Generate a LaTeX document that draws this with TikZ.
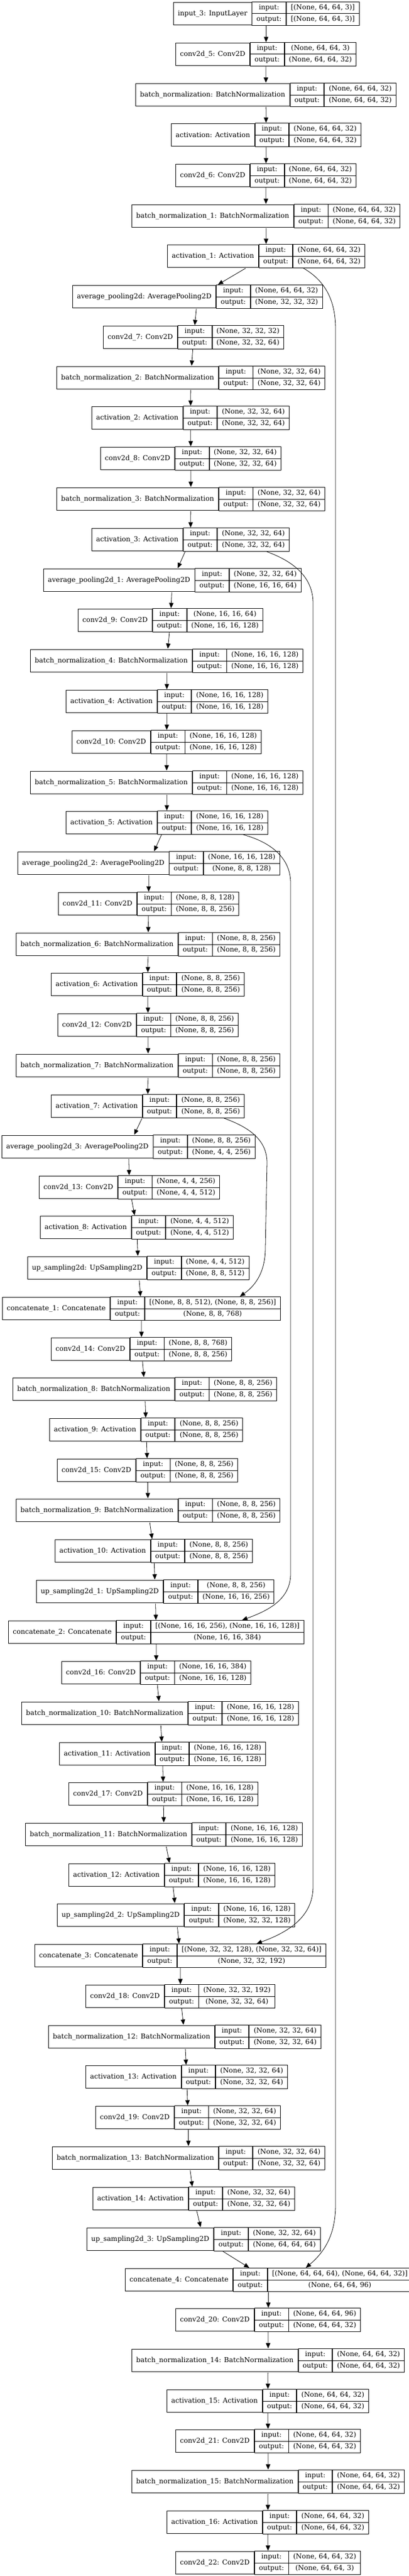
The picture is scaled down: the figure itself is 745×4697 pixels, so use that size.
\documentclass[tikz,border=0pt]{standalone}
\usepackage{fontspec}
\setmainfont{DejaVu Serif}
\usetikzlibrary{positioning}
\usetikzlibrary{fit, shapes.multipart}
\usetikzlibrary{arrows.meta}

\newcommand{\cellstrut}{\rule[-3pt]{0pt}{12.5pt}}
% one keras record: id, left x, top y, layer name, input shape, output shape
\newcommand{\layer}[6]{%
  \node[name-cell, anchor=north west] (n#1) at (#2,#3) {#4};
  \node[port-cell, right=0pt of n#1] (p#1) {\cellstrut input:\nodepart{two}\cellstrut output:};
  \node[port-cell, right=0pt of p#1] (v#1) {\cellstrut #5\nodepart{two}\cellstrut #6};
  \node[fit=(n#1)(v#1), inner sep=0pt] (L#1) {};}

\begin{document}
\begin{tikzpicture}[x=1pt, y=-1pt, font=\fontsize{12.45}{14}\selectfont,
  >={Triangle[length=9.5pt, width=8pt]}]
\tikzstyle{name-cell}=[rectangle, draw, line width=0.9pt, inner xsep=8pt, inner ysep=0pt, minimum height=41pt]
\tikzstyle{port-cell}=[rectangle split, rectangle split parts=2, draw, line width=0.9pt, inner xsep=8pt, inner ysep=4pt]
\tikzstyle{flow-edge}=[line width=0.8pt]
\useasboundingbox (0,0) rectangle (745,4697);

\layer{1}{316}{4}{input\_3: InputLayer}{[(None, 64, 64, 3)]}{[(None, 64, 64, 3)]}
\layer{2}{320}{78}{conv2d\_5: Conv2D}{(None, 64, 64, 3)}{(None, 64, 64, 32)}
\layer{3}{247}{152}{batch\_normalization: BatchNormalization}{(None, 64, 64, 32)}{(None, 64, 64, 32)}
\layer{4}{312}{225}{activation: Activation}{(None, 64, 64, 32)}{(None, 64, 64, 32)}
\layer{5}{320}{299}{conv2d\_6: Conv2D}{(None, 64, 64, 32)}{(None, 64, 64, 32)}
\layer{6}{240}{373}{batch\_normalization\_1: BatchNormalization}{(None, 64, 64, 32)}{(None, 64, 64, 32)}
\layer{7}{305}{446}{activation\_1: Activation}{(None, 64, 64, 32)}{(None, 64, 64, 32)}
\layer{8}{132}{520}{average\_pooling2d: AveragePooling2D}{(None, 64, 64, 32)}{(None, 32, 32, 32)}
\layer{9}{188}{594}{conv2d\_7: Conv2D}{(None, 32, 32, 32)}{(None, 32, 32, 64)}
\layer{10}{103}{668}{batch\_normalization\_2: BatchNormalization}{(None, 32, 32, 64)}{(None, 32, 32, 64)}
\layer{11}{167}{741}{activation\_2: Activation}{(None, 32, 32, 64)}{(None, 32, 32, 64)}
\layer{12}{183}{815}{conv2d\_8: Conv2D}{(None, 32, 32, 64)}{(None, 32, 32, 64)}
\layer{13}{103}{889}{batch\_normalization\_3: BatchNormalization}{(None, 32, 32, 64)}{(None, 32, 32, 64)}
\layer{14}{167}{963}{activation\_3: Activation}{(None, 32, 32, 64)}{(None, 32, 32, 64)}
\layer{15}{79}{1037}{average\_pooling2d\_1: AveragePooling2D}{(None, 32, 32, 64)}{(None, 16, 16, 64)}
\layer{16}{142}{1110}{conv2d\_9: Conv2D}{(None, 16, 16, 64)}{(None, 16, 16, 128)}
\layer{17}{55}{1184}{batch\_normalization\_4: BatchNormalization}{(None, 16, 16, 128)}{(None, 16, 16, 128)}
\layer{18}{120}{1258}{activation\_4: Activation}{(None, 16, 16, 128)}{(None, 16, 16, 128)}
\layer{19}{131}{1332}{conv2d\_10: Conv2D}{(None, 16, 16, 128)}{(None, 16, 16, 128)}
\layer{20}{55}{1406}{batch\_normalization\_5: BatchNormalization}{(None, 16, 16, 128)}{(None, 16, 16, 128)}
\layer{21}{120}{1479}{activation\_5: Activation}{(None, 16, 16, 128)}{(None, 16, 16, 128)}
\layer{22}{32}{1553}{average\_pooling2d\_2: AveragePooling2D}{(None, 16, 16, 128)}{(None, 8, 8, 128)}
\layer{23}{106}{1627}{conv2d\_11: Conv2D}{(None, 8, 8, 128)}{(None, 8, 8, 256)}
\layer{24}{29}{1701}{batch\_normalization\_6: BatchNormalization}{(None, 8, 8, 256)}{(None, 8, 8, 256)}
\layer{25}{93}{1774}{activation\_6: Activation}{(None, 8, 8, 256)}{(None, 8, 8, 256)}
\layer{26}{105}{1848}{conv2d\_12: Conv2D}{(None, 8, 8, 256)}{(None, 8, 8, 256)}
\layer{27}{29}{1922}{batch\_normalization\_7: BatchNormalization}{(None, 8, 8, 256)}{(None, 8, 8, 256)}
\layer{28}{93}{1996}{activation\_7: Activation}{(None, 8, 8, 256)}{(None, 8, 8, 256)}
\layer{29}{3}{2070}{average\_pooling2d\_3: AveragePooling2D}{(None, 8, 8, 256)}{(None, 4, 4, 256)}
\layer{30}{71}{2144}{conv2d\_13: Conv2D}{(None, 4, 4, 256)}{(None, 4, 4, 512)}
\layer{31}{73}{2217}{activation\_8: Activation}{(None, 4, 4, 512)}{(None, 4, 4, 512)}
\layer{32}{50}{2291}{up\_sampling2d: UpSampling2D}{(None, 4, 4, 512)}{(None, 8, 8, 512)}
\layer{33}{4}{2365}{concatenate\_1: Concatenate}{[(None, 8, 8, 512), (None, 8, 8, 256)]}{(None, 8, 8, 768)}
\layer{34}{93}{2439}{conv2d\_14: Conv2D}{(None, 8, 8, 768)}{(None, 8, 8, 256)}
\layer{35}{23}{2512}{batch\_normalization\_8: BatchNormalization}{(None, 8, 8, 256)}{(None, 8, 8, 256)}
\layer{36}{90}{2586}{activation\_9: Activation}{(None, 8, 8, 256)}{(None, 8, 8, 256)}
\layer{37}{104}{2660}{conv2d\_15: Conv2D}{(None, 8, 8, 256)}{(None, 8, 8, 256)}
\layer{38}{29}{2733}{batch\_normalization\_9: BatchNormalization}{(None, 8, 8, 256)}{(None, 8, 8, 256)}
\layer{39}{100}{2807}{activation\_10: Activation}{(None, 8, 8, 256)}{(None, 8, 8, 256)}
\layer{40}{66}{2881}{up\_sampling2d\_1: UpSampling2D}{(None, 8, 8, 256)}{(None, 16, 16, 256)}
\layer{41}{15}{2955}{concatenate\_2: Concatenate}{[(None, 16, 16, 256), (None, 16, 16, 128)]}{(None, 16, 16, 384)}
\layer{42}{112}{3029}{conv2d\_16: Conv2D}{(None, 16, 16, 384)}{(None, 16, 16, 128)}
\layer{43}{39}{3103}{batch\_normalization\_10: BatchNormalization}{(None, 16, 16, 128)}{(None, 16, 16, 128)}
\layer{44}{108}{3177}{activation\_11: Activation}{(None, 16, 16, 128)}{(None, 16, 16, 128)}
\layer{45}{125}{3250}{conv2d\_17: Conv2D}{(None, 16, 16, 128)}{(None, 16, 16, 128)}
\layer{46}{46}{3324}{batch\_normalization\_11: BatchNormalization}{(None, 16, 16, 128)}{(None, 16, 16, 128)}
\layer{47}{125}{3398}{activation\_12: Activation}{(None, 16, 16, 128)}{(None, 16, 16, 128)}
\layer{48}{104}{3471}{up\_sampling2d\_2: UpSampling2D}{(None, 16, 16, 128)}{(None, 32, 32, 128)}
\layer{49}{63}{3545}{concatenate\_3: Concatenate}{[(None, 32, 32, 128), (None, 32, 32, 64)]}{(None, 32, 32, 192)}
\layer{50}{156}{3619}{conv2d\_18: Conv2D}{(None, 32, 32, 192)}{(None, 32, 32, 64)}
\layer{51}{88}{3693}{batch\_normalization\_12: BatchNormalization}{(None, 32, 32, 64)}{(None, 32, 32, 64)}
\layer{52}{156}{3766}{activation\_13: Activation}{(None, 32, 32, 64)}{(None, 32, 32, 64)}
\layer{53}{174}{3840}{conv2d\_19: Conv2D}{(None, 32, 32, 64)}{(None, 32, 32, 64)}
\layer{54}{95}{3914}{batch\_normalization\_13: BatchNormalization}{(None, 32, 32, 64)}{(None, 32, 32, 64)}
\layer{55}{169}{3988}{activation\_14: Activation}{(None, 32, 32, 64)}{(None, 32, 32, 64)}
\layer{56}{158}{4062}{up\_sampling2d\_3: UpSampling2D}{(None, 32, 32, 64)}{(None, 64, 64, 64)}
\layer{57}{228}{4136}{concatenate\_4: Concatenate}{[(None, 64, 64, 64), (None, 64, 64, 32)]}{(None, 64, 64, 96)}
\layer{58}{320}{4209}{conv2d\_20: Conv2D}{(None, 64, 64, 96)}{(None, 64, 64, 32)}
\layer{59}{240}{4283}{batch\_normalization\_14: BatchNormalization}{(None, 64, 64, 32)}{(None, 64, 64, 32)}
\layer{60}{304}{4357}{activation\_15: Activation}{(None, 64, 64, 32)}{(None, 64, 64, 32)}
\layer{61}{320}{4430}{conv2d\_21: Conv2D}{(None, 64, 64, 32)}{(None, 64, 64, 32)}
\layer{62}{240}{4504}{batch\_normalization\_15: BatchNormalization}{(None, 64, 64, 32)}{(None, 64, 64, 32)}
\layer{63}{304}{4578}{activation\_16: Activation}{(None, 64, 64, 32)}{(None, 64, 64, 32)}
\layer{64}{320}{4652}{conv2d\_22: Conv2D}{(None, 64, 64, 32)}{(None, 64, 64, 3)}

% main chain
\foreach \i [evaluate=\i as \j using int(\i+1)] in {1,...,63}
  \draw[->, style=flow-edge] (L\i) -- (L\j);

% skip connections
\coordinate (s7a) at (612,600);
\coordinate (s7b) at (612,4020);
\coordinate (s14a) at (571,1100);
\coordinate (s14b) at (571,3440);
\coordinate (s21a) at (530,1610);
\coordinate (s21b) at (530,2870);
\coordinate (s28a) at (487,2120);
\coordinate (s28b) at (484,2275);
\draw[->, style=flow-edge] (L7.-18) to[out=-30, in=90] (s7a) -- (s7b) to[out=-90, in=40] (L57.18);
\draw[->, style=flow-edge] (L14.-9.5) to[out=-20, in=90] (s14a) -- (s14b) to[out=-90, in=20] (L49.9);
\draw[->, style=flow-edge] (L21.-9) to[out=-15, in=90] (s21a) -- (s21b) to[out=-90, in=20] (L41.8.5);
\draw[->, style=flow-edge] (L28.-9.8) to[out=-20, in=90] (s28a) -- (s28b) to[out=-90, in=35] (L33.7.6);

\end{tikzpicture}
\end{document}
